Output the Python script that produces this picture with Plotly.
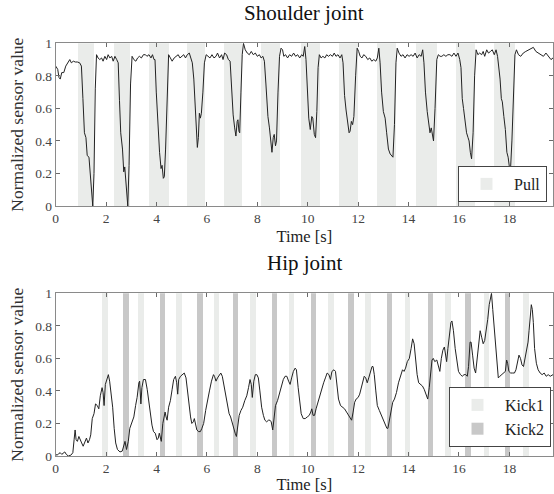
import plotly.graph_objects as go

# ---------------- data ----------------
shoulder_t = [0.00,0.08,0.13,0.18,0.24,0.32,0.40,0.50,0.56,0.62,0.70,0.78,0.86,0.95,1.02,1.08,1.14,1.20,1.25,1.32,1.36,1.42,1.47,1.52,1.57,1.62,1.68,1.75,1.82,1.88,1.95,2.02,2.08,2.15,2.22,2.28,2.35,2.42,2.48,2.53,2.58,2.65,2.70,2.74,2.78,2.82,2.86,2.91,2.97,3.03,3.10,3.18,3.25,3.32,3.40,3.48,3.56,3.62,3.70,3.78,3.84,3.90,3.94,3.99,4.05,4.12,4.18,4.22,4.27,4.31,4.36,4.42,4.48,4.55,4.62,4.70,4.78,4.86,4.93,5.00,5.08,5.15,5.22,5.30,5.36,5.42,5.48,5.54,5.58,5.62,5.66,5.70,5.74,5.78,5.84,5.90,5.97,6.05,6.12,6.20,6.28,6.36,6.42,6.50,6.58,6.64,6.70,6.78,6.85,6.92,6.98,7.04,7.10,7.15,7.20,7.23,7.27,7.30,7.35,7.40,7.45,7.52,7.60,7.68,7.76,7.84,7.92,8.00,8.08,8.15,8.22,8.28,8.34,8.42,8.48,8.54,8.58,8.63,8.67,8.72,8.76,8.82,8.88,8.94,9.00,9.05,9.12,9.20,9.28,9.36,9.44,9.52,9.60,9.68,9.76,9.82,9.88,9.93,9.98,10.04,10.10,10.16,10.20,10.26,10.31,10.36,10.41,10.46,10.53,10.60,10.68,10.75,10.82,10.90,10.98,11.05,11.12,11.20,11.28,11.35,11.40,11.46,11.52,11.58,11.64,11.68,11.73,11.78,11.83,11.90,11.96,12.02,12.08,12.15,12.22,12.30,12.38,12.46,12.54,12.62,12.70,12.76,12.82,12.87,12.93,13.00,13.07,13.13,13.20,13.27,13.33,13.38,13.44,13.50,13.55,13.62,13.70,13.78,13.86,13.94,14.02,14.10,14.18,14.26,14.34,14.42,14.50,14.56,14.61,14.67,14.74,14.80,14.85,14.90,14.95,14.99,15.05,15.12,15.18,15.25,15.32,15.40,15.48,15.56,15.64,15.72,15.80,15.88,15.96,16.03,16.08,16.13,16.18,16.24,16.30,16.36,16.40,16.45,16.50,16.56,16.62,16.68,16.75,16.82,16.90,16.96,17.02,17.10,17.17,17.25,17.32,17.40,17.47,17.53,17.58,17.63,17.68,17.72,17.78,17.84,17.90,17.95,18.00,18.04,18.10,18.16,18.22,18.28,18.36,18.45,18.55,18.65,18.75,18.85,18.95,19.05,19.15,19.25,19.35,19.45,19.55,19.65,19.73]
shoulder_v = [0.86,0.84,0.79,0.78,0.82,0.82,0.86,0.89,0.90,0.88,0.89,0.885,0.885,0.88,0.86,0.66,0.45,0.42,0.31,0.30,0.20,0.06,0.00,0.20,0.72,0.93,0.91,0.90,0.91,0.89,0.92,0.90,0.93,0.91,0.92,0.89,0.92,0.90,0.88,0.65,0.45,0.35,0.21,0.24,0.17,0.08,0.00,0.25,0.75,0.92,0.90,0.89,0.91,0.92,0.91,0.93,0.93,0.92,0.93,0.91,0.93,0.90,0.90,0.70,0.48,0.33,0.23,0.25,0.17,0.18,0.35,0.72,0.93,0.91,0.89,0.91,0.92,0.93,0.91,0.92,0.93,0.91,0.93,0.94,0.90,0.88,0.78,0.60,0.45,0.36,0.42,0.57,0.54,0.57,0.70,0.88,0.93,0.92,0.91,0.93,0.91,0.92,0.94,0.91,0.93,0.90,0.94,0.93,0.90,0.89,0.70,0.56,0.48,0.43,0.52,0.53,0.46,0.45,0.70,0.93,1.00,0.96,0.94,0.93,0.95,0.93,0.94,0.92,0.93,0.91,0.92,0.89,0.75,0.55,0.48,0.36,0.33,0.42,0.44,0.37,0.40,0.70,0.92,0.97,0.96,0.92,0.93,0.91,0.93,0.92,0.94,0.92,0.93,0.91,0.93,0.92,0.98,0.90,0.70,0.54,0.47,0.55,0.54,0.44,0.42,0.58,0.85,0.93,0.91,0.92,0.91,0.93,0.92,0.93,0.92,0.94,0.92,0.93,0.91,0.93,0.88,0.68,0.59,0.53,0.45,0.46,0.52,0.50,0.55,0.80,0.97,0.95,0.92,0.91,0.93,0.92,0.90,0.91,0.89,0.90,0.89,0.91,0.97,0.88,0.70,0.58,0.54,0.45,0.35,0.32,0.31,0.30,0.50,0.88,0.97,0.94,0.92,0.93,0.91,0.93,0.92,0.93,0.92,0.94,0.91,0.93,0.92,0.96,0.88,0.70,0.58,0.50,0.45,0.48,0.42,0.40,0.60,0.90,0.93,0.92,0.92,0.93,0.92,0.93,0.93,0.92,0.94,0.92,0.94,0.90,0.85,0.66,0.60,0.53,0.45,0.42,0.40,0.33,0.29,0.45,0.80,0.96,0.93,0.94,0.93,0.95,0.92,0.96,0.94,0.95,0.96,0.93,0.96,0.92,0.85,0.78,0.66,0.64,0.55,0.47,0.33,0.30,0.24,0.21,0.40,0.75,0.93,0.96,0.93,0.92,0.94,0.95,0.96,0.97,0.975,0.95,0.94,0.93,0.92,0.94,0.92,0.90,0.91]

hip_t = [0.00,0.06,0.12,0.18,0.24,0.30,0.36,0.42,0.50,0.60,0.68,0.73,0.77,0.81,0.86,0.92,0.98,1.03,1.09,1.15,1.22,1.28,1.34,1.39,1.45,1.52,1.58,1.65,1.71,1.77,1.84,1.88,1.92,1.97,2.03,2.09,2.14,2.20,2.26,2.32,2.38,2.45,2.55,2.64,2.70,2.75,2.81,2.88,2.94,3.02,3.10,3.17,3.23,3.30,3.33,3.38,3.42,3.48,3.56,3.63,3.69,3.75,3.82,3.88,3.95,4.02,4.07,4.11,4.16,4.19,4.25,4.30,4.34,4.38,4.42,4.48,4.55,4.62,4.68,4.75,4.80,4.84,4.88,4.95,5.02,5.10,5.17,5.23,5.28,5.35,5.40,5.46,5.50,5.55,5.60,5.67,5.74,5.80,5.87,5.95,6.03,6.10,6.18,6.26,6.30,6.36,6.42,6.49,6.55,6.61,6.67,6.74,6.80,6.88,6.94,7.00,7.06,7.12,7.17,7.22,7.28,7.35,7.42,7.50,7.58,7.65,7.71,7.76,7.80,7.86,7.92,7.98,8.04,8.10,8.17,8.24,8.30,8.37,8.44,8.50,8.55,8.61,8.66,8.72,8.80,8.88,8.95,9.03,9.10,9.17,9.24,9.30,9.36,9.43,9.50,9.55,9.62,9.68,9.74,9.82,9.90,9.98,10.06,10.12,10.16,10.21,10.27,10.33,10.40,10.48,10.56,10.63,10.70,10.77,10.84,10.90,10.96,11.04,11.10,11.16,11.22,11.30,11.38,11.46,11.54,11.62,11.68,11.74,11.80,11.86,11.92,12.00,12.06,12.12,12.18,12.24,12.30,12.36,12.42,12.48,12.55,12.59,12.64,12.70,12.76,12.84,12.92,13.00,13.08,13.14,13.18,13.24,13.30,13.37,13.44,13.52,13.60,13.68,13.76,13.82,13.88,13.95,14.03,14.10,14.16,14.22,14.28,14.34,14.40,14.48,14.55,14.62,14.70,14.76,14.82,14.88,14.93,14.98,15.04,15.12,15.18,15.24,15.30,15.36,15.42,15.47,15.51,15.56,15.62,15.68,15.72,15.78,15.85,15.92,15.98,16.06,16.13,16.20,16.27,16.33,16.38,16.44,16.48,16.54,16.60,16.66,16.72,16.78,16.84,16.90,16.96,17.02,17.08,17.14,17.20,17.26,17.29,17.34,17.39,17.44,17.50,17.56,17.62,17.70,17.78,17.84,17.89,17.93,17.98,18.05,18.12,18.20,18.26,18.32,18.38,18.44,18.50,18.56,18.62,18.68,18.74,18.78,18.83,18.87,18.91,18.95,19.00,19.07,19.14,19.22,19.30,19.38,19.46,19.54,19.62,19.73]
hip_v = [0.01,0.005,0.015,0.02,0.01,0.02,0.025,0.01,0.0,0.005,0.02,0.10,0.16,0.10,0.09,0.12,0.09,0.08,0.06,0.08,0.11,0.08,0.10,0.13,0.23,0.26,0.32,0.31,0.29,0.37,0.42,0.39,0.31,0.44,0.48,0.50,0.46,0.38,0.30,0.17,0.08,0.04,0.025,0.03,0.06,0.09,0.04,0.09,0.17,0.20,0.24,0.31,0.36,0.45,0.46,0.32,0.42,0.47,0.47,0.41,0.33,0.26,0.19,0.15,0.14,0.10,0.11,0.14,0.10,0.09,0.20,0.23,0.27,0.24,0.22,0.30,0.34,0.41,0.47,0.49,0.45,0.38,0.47,0.49,0.50,0.51,0.48,0.40,0.32,0.24,0.20,0.21,0.23,0.19,0.16,0.15,0.15,0.17,0.20,0.28,0.36,0.40,0.46,0.50,0.49,0.46,0.48,0.50,0.51,0.49,0.44,0.36,0.31,0.26,0.24,0.20,0.18,0.14,0.12,0.17,0.25,0.28,0.30,0.34,0.37,0.42,0.47,0.44,0.36,0.46,0.50,0.50,0.48,0.40,0.30,0.25,0.22,0.21,0.22,0.22,0.21,0.16,0.24,0.31,0.34,0.39,0.43,0.47,0.49,0.49,0.46,0.44,0.48,0.52,0.54,0.53,0.42,0.33,0.26,0.23,0.23,0.24,0.25,0.27,0.29,0.25,0.25,0.29,0.33,0.38,0.42,0.45,0.48,0.51,0.50,0.47,0.52,0.53,0.52,0.44,0.35,0.31,0.30,0.29,0.27,0.25,0.23,0.22,0.27,0.33,0.35,0.36,0.38,0.42,0.47,0.49,0.48,0.45,0.48,0.51,0.55,0.55,0.50,0.40,0.31,0.28,0.25,0.23,0.20,0.17,0.17,0.22,0.29,0.33,0.35,0.39,0.45,0.49,0.53,0.52,0.54,0.58,0.60,0.66,0.72,0.69,0.58,0.50,0.45,0.44,0.43,0.41,0.37,0.35,0.42,0.50,0.59,0.60,0.58,0.59,0.56,0.52,0.60,0.65,0.67,0.60,0.58,0.66,0.74,0.82,0.83,0.77,0.66,0.57,0.52,0.50,0.49,0.50,0.50,0.49,0.55,0.70,0.70,0.62,0.54,0.51,0.60,0.70,0.77,0.73,0.69,0.71,0.77,0.84,0.93,0.99,1.00,0.90,0.80,0.68,0.56,0.48,0.49,0.50,0.51,0.52,0.59,0.57,0.52,0.51,0.51,0.51,0.53,0.58,0.62,0.60,0.56,0.55,0.60,0.66,0.70,0.77,0.86,0.93,0.90,0.82,0.66,0.57,0.53,0.51,0.50,0.51,0.49,0.50,0.49,0.50]

pull_start = [0.87, 2.29, 3.70, 5.20, 6.68, 8.13, 9.73, 11.21, 12.74, 14.30, 15.85, 17.37]
pull_end = [1.52, 2.95, 4.47, 5.92, 7.38, 8.87, 10.46, 11.97, 13.50, 15.12, 16.64, 18.20]

kick1_start = [1.82, 3.24, 4.76, 6.27, 7.68, 9.23, 10.79, 12.27, 13.83, 15.45, 16.97, 18.53]
kick1_end = [2.05, 3.50, 5.00, 6.48, 7.92, 9.46, 11.04, 12.50, 14.06, 15.67, 17.19, 18.78]
kick2_start = [2.66, 4.14, 5.60, 7.02, 8.55, 10.12, 11.59, 13.13, 14.76, 16.24, 17.80]
kick2_end = [2.88, 4.33, 5.82, 7.23, 8.76, 10.33, 11.81, 13.33, 14.97, 16.48, 18.03]

x_ticks = [0, 2, 4, 6, 8, 10, 12, 14, 16, 18]
y_ticks = [0, 0.2, 0.4, 0.6, 0.8, 1]

# ---------------- figure ----------------
FONT = "Liberation Serif"
fig = go.Figure()


def band_trace(starts, ends, name, color, xa, ya, legend):
    centers = [(s + e) / 2 for s, e in zip(starts, ends)]
    widths = [e - s for s, e in zip(starts, ends)]
    return go.Bar(x=centers, y=[1] * len(starts), base=0, width=widths,
                  marker=dict(color=color, line=dict(width=0)), name=name,
                  xaxis=xa, yaxis=ya, legend=legend, hoverinfo="skip")


fig.add_trace(band_trace(pull_start, pull_end, "Pull", "#eaecea", "x", "y", "legend"))
fig.add_trace(go.Scatter(x=shoulder_t, y=shoulder_v, mode="lines",
                         line=dict(color="#222222", width=1), showlegend=False,
                         xaxis="x", yaxis="y"))

fig.add_trace(band_trace(kick1_start, kick1_end, "Kick1", "#eaecea", "x2", "y2", "legend2"))
fig.add_trace(band_trace(kick2_start, kick2_end, "Kick2", "#c8c8c8", "x2", "y2", "legend2"))
fig.add_trace(go.Scatter(x=hip_t, y=hip_v, mode="lines",
                         line=dict(color="#222222", width=1), showlegend=False,
                         xaxis="x2", yaxis="y2"))

W, H = 554, 494


def px(xr):
    return xr / W


def py(yr):
    return 1 - yr / H


xdom = [px(55.7), px(553)]
top_dom = [py(206), py(43.3)]
bot_dom = [py(456), py(293.3)]

axis_common = dict(showline=True, linecolor="#8a8a8a", linewidth=1, mirror="allticks",
                   ticks="inside", ticklen=4, tickcolor="#6a6a6a", showgrid=False,
                   zeroline=False, automargin=False,
                   tickfont=dict(family=FONT, size=13.5, color="#444444"))

xa = dict(axis_common, range=[0, 19.73], tickvals=x_ticks, domain=xdom,
          title=dict(text="Time [s]", font=dict(family=FONT, size=16.5, color="#222222"), standoff=5))
ya = dict(axis_common, range=[0, 1], tickvals=y_ticks,
          title=dict(text="Normalized sensor value", font=dict(family=FONT, size=17.5, color="#333333"), standoff=6))

legend_common = dict(xanchor="right", yanchor="bottom", bgcolor="white",
                     bordercolor="#444444", borderwidth=1, itemwidth=45,
                     font=dict(family=FONT, size=16, color="#222222"), tracegroupgap=0)

fig.update_layout(
    width=W, height=H,
    margin=dict(l=0, r=0, t=0, b=0, autoexpand=False),
    paper_bgcolor="white", plot_bgcolor="white",
    barmode="overlay", bargap=0,
    font=dict(family=FONT),
    xaxis=dict(xa, anchor="y"),
    yaxis=dict(ya, domain=top_dom, anchor="x"),
    xaxis2=dict(xa, anchor="y2"),
    yaxis2=dict(ya, domain=bot_dom, anchor="x2"),
    legend=dict(legend_common, x=px(547), y=py(202)),
    legend2=dict(legend_common, x=px(551), y=py(447)),
    annotations=[
        dict(text="Shoulder joint", x=(xdom[0] + xdom[1]) / 2, y=py(13), xref="paper", yref="paper",
             xanchor="center", yanchor="middle", showarrow=False,
             font=dict(family=FONT, size=21, color="#111111")),
        dict(text="Hip joint", x=(xdom[0] + xdom[1]) / 2, y=py(263), xref="paper", yref="paper",
             xanchor="center", yanchor="middle", showarrow=False,
             font=dict(family=FONT, size=21, color="#111111")),
    ],
)

# remove the browser's default 8px page margin so the figure sits at the window origin
fig.write_html("out.html", config={"displayModeBar": False},
               post_script="document.body.style.margin='0';")
